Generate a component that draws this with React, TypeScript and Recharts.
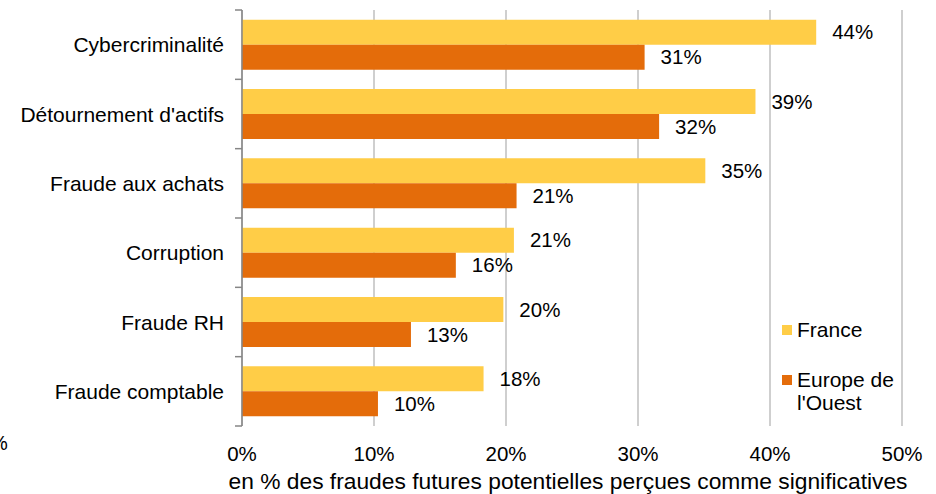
import { BarChart, Bar, XAxis, YAxis, CartesianGrid, LabelList } from "recharts";

const categories = [
  "Cybercriminalité",
  "Détournement d'actifs",
  "Fraude aux achats",
  "Corruption",
  "Fraude RH",
  "Fraude comptable",
];
const franceValues = [43.5, 38.9, 35.1, 20.6, 19.8, 18.3];
const europeValues = [30.5, 31.6, 20.8, 16.2, 12.8, 10.3];
const xTicks = [0, 10, 20, 30, 40, 50];
const xTitle = "en % des fraudes futures potentielles perçues comme significatives";

const series = [
  { key: "france", name: "France", color: "#FFCD47" },
  { key: "europe", name: "Europe de l'Ouest", color: "#E46C0A" },
];

const data = categories.map((name, i) => ({
  name,
  france: franceValues[i],
  europe: europeValues[i],
}));

const W = 936;
const H = 494;
const AXIS_W = 242;
const TOP = 10;
const BOTTOM = 68;
const RIGHT = 34;
const BAND = (H - TOP - BOTTOM) / categories.length;
const FONT = "'Liberation Sans', Arial, sans-serif";

const CategoryTick = (props: any) => {
  const { y, payload, index } = props;
  return (
    <g>
      <text
        x={224}
        y={y}
        textAnchor="end"
        dominantBaseline="central"
        fontSize={21}
        fontFamily={FONT}
        fill="#000"
      >
        {payload.value}
      </text>
      <line x1={AXIS_W - 7} x2={AXIS_W} y1={y - BAND / 2} y2={y - BAND / 2} stroke="#868686" strokeWidth={1.5} />
      {index === categories.length - 1 && (
        <line x1={AXIS_W - 7} x2={AXIS_W} y1={y + BAND / 2} y2={y + BAND / 2} stroke="#868686" strokeWidth={1.5} />
      )}
    </g>
  );
};

const TitleLabel = (props: any) => {
  const vb = props.viewBox || {};
  const cx = (vb.x ?? 0) + (vb.width ?? 0) / 2 - 4;
  return (
    <text
      x={cx}
      y={(vb.y ?? 0) + 63}
      textAnchor="middle"
      fontSize={21.5}
      fontFamily={FONT}
      fill="#000"
      textLength={679}
      lengthAdjust="spacingAndGlyphs"
    >
      {xTitle}
    </text>
  );
};

const pct = (v: any) => `${Math.round(Number(v))}%`;

export default function App() {
  return (
    <div style={{ position: "absolute", left: 0, top: 0, width: W, height: H, background: "#fff", fontFamily: FONT }}>
      <BarChart
        width={W}
        height={H}
        data={data}
        layout="vertical"
        margin={{ top: TOP, right: RIGHT, bottom: 0, left: 0 }}
        barGap={0}
        barCategoryGap="14%"
      >
        <CartesianGrid horizontal={false} stroke="#BFBFBF" strokeWidth={1.5} />
        <XAxis
          type="number"
          domain={[0, 50]}
          ticks={xTicks}
          tickFormatter={(v) => `${v}%`}
          axisLine={false}
          tickLine={false}
          tickMargin={14}
          height={BOTTOM}
          tick={{ fill: "#000", fontSize: 20.5, fontFamily: FONT }}
          label={<TitleLabel />}
        />
        <YAxis
          type="category"
          dataKey="name"
          width={AXIS_W}
          axisLine={{ stroke: "#868686", strokeWidth: 1.5 }}
          tickLine={false}
          tick={<CategoryTick />}
          interval={0}
        />
        {series.map((s) => (
          <Bar key={s.key} dataKey={s.key} name={s.name} fill={s.color} isAnimationActive={false}>
            <LabelList
              dataKey={s.key}
              position="right"
              offset={16}
              formatter={pct}
              fill="#000"
              fontSize={20.5}
              fontFamily={FONT}
            />
          </Bar>
        ))}
      </BarChart>
      <div style={{ position: "absolute", left: 782, top: 318, width: 130, fontSize: 21, lineHeight: "23px", color: "#000" }}>
        {series.map((s, i) => (
          <div key={s.key} style={{ display: "flex", alignItems: "flex-start", marginTop: i === 0 ? 0 : 27 }}>
            <span style={{ width: 10, height: 10, background: s.color, marginTop: 7, marginRight: 5, flexShrink: 0 }} />
            <span>{s.name}</span>
          </div>
        ))}
      </div>
      <div style={{ position: "absolute", left: -10, top: 432, fontSize: 20, color: "#000" }}>%</div>
    </div>
  );
}
